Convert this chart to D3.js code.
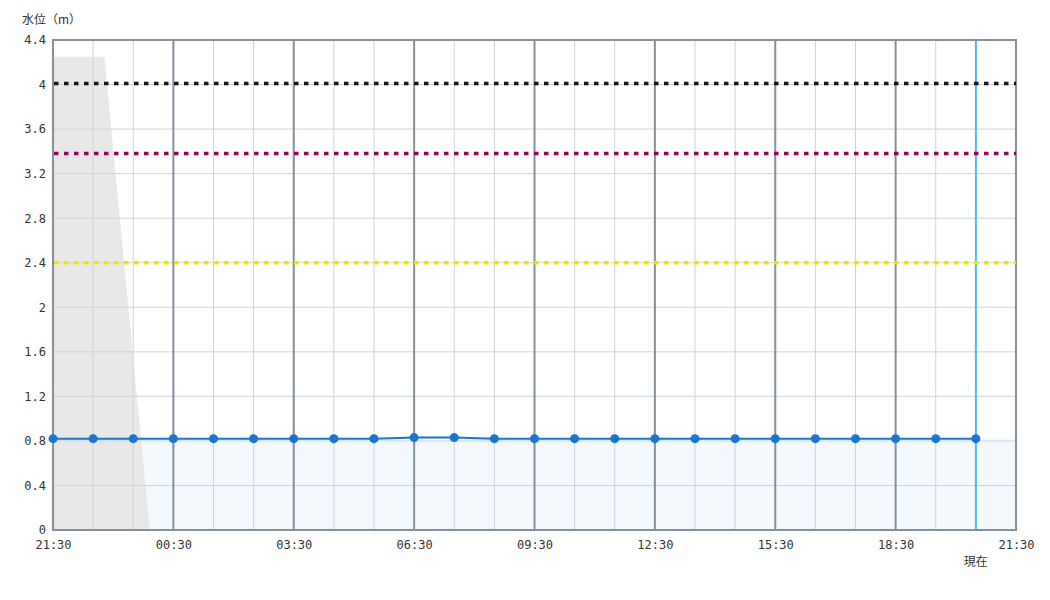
<!DOCTYPE html>
<html>
<head>
<meta charset="utf-8">
<script src="https://cdn.jsdelivr.net/npm/d3@7"></script>
<style>
  body { margin: 0; background: #fff; }
  text { font-family: "DejaVu Sans Mono", "Noto Sans CJK JP", monospace; fill: #333; }
  .cjk { font-family: "Noto Sans CJK JP", sans-serif; }
</style>
</head>
<body>
<div id="graphDiv"></div>
<script>
// hourly readings starting at 21:30
const startTime = "2024-05-01T21:30"
const levels = [0.82, 0.82, 0.82, 0.82, 0.82, 0.82, 0.82, 0.82, 0.82, 0.83, 0.83, 0.82,
                0.82, 0.82, 0.82, 0.82, 0.82, 0.82, 0.82, 0.82, 0.82, 0.82, 0.82, 0.82]
const nowIndex = 23

// reference levels (m)
const thresholdValues = [4.01, 3.38, 2.40]
const thresholdColors = ["#161616", "#9c005d", "#f2e400"]

// grey block (hours from start, level)
const greyHours = [0, 1.28, 2.41, 0]
const greyLevels = [4.25, 4.25, 0, 0]

const yTicks = [0, 0.4, 0.8, 1.2, 1.6, 2, 2.4, 2.8, 3.2, 3.6, 4, 4.4]
const xTickLabels = ["21:30", "00:30", "03:30", "06:30", "09:30", "12:30", "15:30", "18:30", "21:30"]

const margin = { top: 40, right: 34, bottom: 70, left: 53 }
const totalWidth = 1050, totalHeight = 600
const width = totalWidth - margin.left - margin.right
const graph_height = totalHeight - margin.top - margin.bottom

const t0 = new Date(startTime)
const t1 = d3.timeHour.offset(t0, 24)
const timeAt = h => new Date(t0.getTime() + h * 3600000)

const xScale = d3.scaleTime().domain([t0, t1]).range([0, width])
const yScale = d3.scaleLinear().domain([0, 4.4]).range([graph_height, 0])

const svg = d3.select("#graphDiv").append("svg")
    .attr("width", totalWidth)
    .attr("height", totalHeight)

const g = svg.append("g").attr("transform", `translate(${margin.left},${margin.top})`)

const points = levels.map((v, i) => ({ t: timeAt(i), v }))

// light fill under the water level, carried on to the right edge
const fillPoints = points.concat([{ t: t1, v: levels[levels.length - 1] }])
g.append("path")
    .datum(fillPoints)
    .attr("fill", "#f4f9fe")
    .attr("d", d3.area().x(d => xScale(d.t)).y0(yScale(0)).y1(d => yScale(d.v)))

// grey block
const greyPoly = greyHours.map((h, i) => [xScale(timeAt(h)), yScale(greyLevels[i])])
g.append("path")
    .attr("fill", "#e8e8e8")
    .attr("d", d3.line()(greyPoly) + "Z")

// horizontal grid
g.append("g")
    .selectAll("line")
    .data(yTicks.slice(1, -1))
    .join("line")
    .attr("x1", 0).attr("x2", width)
    .attr("y1", d => yScale(d)).attr("y2", d => yScale(d))
    .attr("stroke", "#cdd5db")
    .attr("stroke-width", 1)

// vertical grid, hourly light, every 3h dark
const hourSteps = d3.range(1, 24)
g.append("g")
    .selectAll("line")
    .data(hourSteps)
    .join("line")
    .attr("x1", h => xScale(timeAt(h))).attr("x2", h => xScale(timeAt(h)))
    .attr("y1", 0).attr("y2", graph_height)
    .attr("stroke", h => h % 3 === 0 ? "#84909a" : "#cdd5db")
    .attr("stroke-width", h => h % 3 === 0 ? 2 : 1)

// current time line
g.append("line")
    .attr("x1", xScale(timeAt(nowIndex))).attr("x2", xScale(timeAt(nowIndex)))
    .attr("y1", 0).attr("y2", graph_height)
    .attr("stroke", "#4bbcf2")
    .attr("stroke-width", 2)

// frame
g.append("rect")
    .attr("width", width).attr("height", graph_height)
    .attr("fill", "none")
    .attr("stroke", "#84909a")
    .attr("stroke-width", 2)

// threshold lines
g.append("g")
    .selectAll("line")
    .data(thresholdValues)
    .join("line")
    .attr("x1", 1).attr("x2", width)
    .attr("y1", d => yScale(d)).attr("y2", d => yScale(d))
    .attr("stroke", (d, i) => thresholdColors[i])
    .attr("stroke-width", 3.5)
    .attr("stroke-dasharray", "4.5 5.5")

// water level line + dots
g.append("path")
    .datum(points)
    .attr("fill", "none")
    .attr("stroke", "#1a74d1")
    .attr("stroke-width", 2)
    .attr("d", d3.line().x(d => xScale(d.t)).y(d => yScale(d.v)))

g.append("g")
    .selectAll("circle")
    .data(points)
    .join("circle")
    .attr("cx", d => xScale(d.t))
    .attr("cy", d => yScale(d.v))
    .attr("r", 4.5)
    .attr("fill", "#1a74d1")

// y axis labels
const leftAxis = d3.axisLeft(yScale)
    .tickValues(yTicks)
    .tickSize(0)
    .tickPadding(7)
    .tickFormat(d => String(d))
const leftAxisGroup = g.append("g").call(leftAxis)
leftAxisGroup.select(".domain").remove()
leftAxisGroup.selectAll("text").attr("font-size", 12).attr("font-family", null)

// x axis labels
const xTicks = d3.range(0, 25, 3).map(h => timeAt(h))
const bottomAxis = d3.axisBottom(xScale)
    .tickValues(xTicks)
    .tickSize(0)
    .tickPadding(10)
    .tickFormat((d, i) => xTickLabels[i])
const bottomAxisGroup = g.append("g")
    .attr("transform", `translate(0,${graph_height})`)
    .call(bottomAxis)
bottomAxisGroup.select(".domain").remove()
bottomAxisGroup.selectAll("text").attr("font-size", 12).attr("font-family", null)

// now label
g.append("text")
    .attr("class", "cjk")
    .attr("x", xScale(timeAt(nowIndex)))
    .attr("y", graph_height + 36)
    .attr("text-anchor", "middle")
    .attr("font-size", 12)
    .text("現在")

// y axis title
svg.append("text")
    .attr("class", "cjk")
    .attr("x", 22)
    .attr("y", 24)
    .attr("font-size", 12)
    .text("水位（m）")
</script>
</body>
</html>
